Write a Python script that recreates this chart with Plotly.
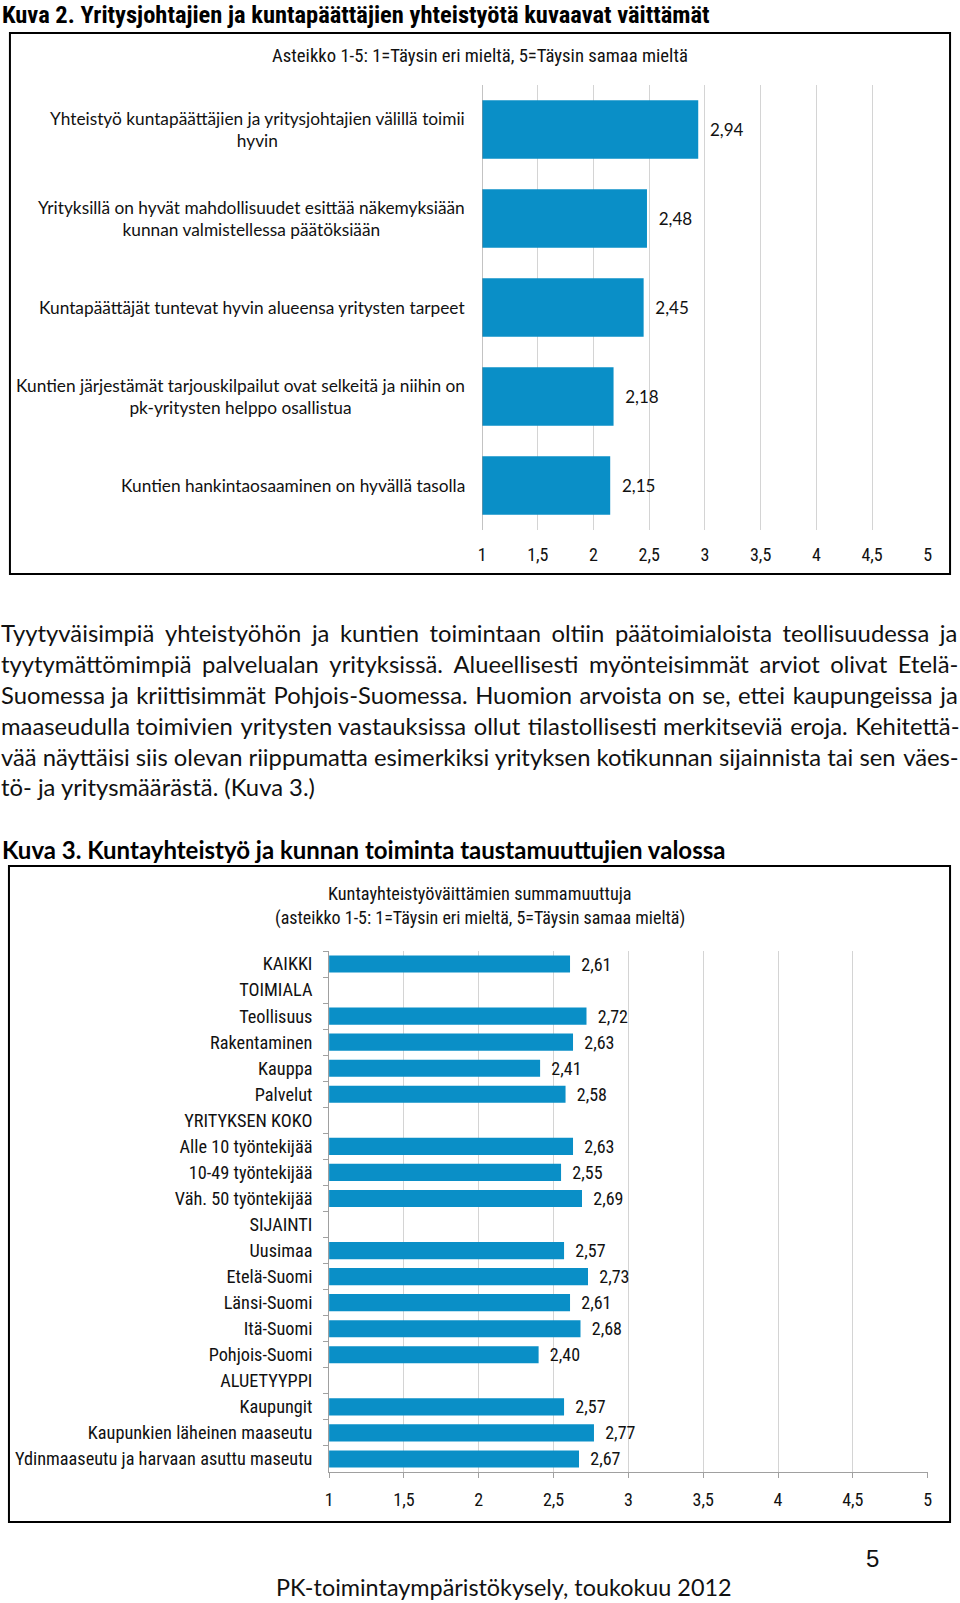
import plotly.graph_objects as go

# Kuva 2 - väittämät
vaitteet = [
    "Yhteistyö kuntapäättäjien ja yritysjohtajien välillä toimii<br>hyvin",
    "Yrityksillä on hyvät mahdollisuudet esittää näkemyksiään<br>kunnan valmistellessa päätöksiään",
    "Kuntapäättäjät tuntevat hyvin alueensa yritysten tarpeet",
    "Kuntien järjestämät tarjouskilpailut ovat selkeitä ja niihin on<br>pk-yritysten helppo osallistua",
    "Kuntien hankintaosaaminen on hyvällä tasolla",
]
vaite_arvot = [2.94, 2.48, 2.45, 2.18, 2.15]

# Kuva 3 - taustamuuttujat
taustat = [
    "KAIKKI", "TOIMIALA", "Teollisuus", "Rakentaminen", "Kauppa", "Palvelut",
    "YRITYKSEN KOKO", "Alle 10 työntekijää", "10-49 työntekijää", "Väh. 50 työntekijää",
    "SIJAINTI", "Uusimaa", "Etelä-Suomi", "Länsi-Suomi", "Itä-Suomi", "Pohjois-Suomi",
    "ALUETYYPPI", "Kaupungit", "Kaupunkien läheinen maaseutu",
    "Ydinmaaseutu ja harvaan asuttu maseutu",
]
tausta_arvot = [
    2.61, None, 2.72, 2.63, 2.41, 2.58,
    None, 2.63, 2.55, 2.69,
    None, 2.57, 2.73, 2.61, 2.68, 2.40,
    None, 2.57, 2.77, 2.67,
]

asteikko = [1, 1.5, 2, 2.5, 3, 3.5, 4, 4.5, 5]
asteikko_tekstit = ["1", "1,5", "2", "2,5", "3", "3,5", "4", "4,5", "5"]

leipateksti = [
    "Tyytyväisimpiä yhteistyöhön ja kuntien toimintaan oltiin päätoimialoista teollisuudessa ja",
    "tyytymättömimpiä palvelualan yrityksissä. Alueellisesti myönteisimmät arviot olivat Etelä-",
    "Suomessa ja kriittisimmät Pohjois-Suomessa. Huomion arvoista on se, ettei kaupungeissa ja",
    "maaseudulla toimivien yritysten vastauksissa ollut tilastollisesti merkitseviä eroja. Kehitettä-",
    "vää näyttäisi siis olevan riippumatta esimerkiksi yrityksen kotikunnan sijainnista tai sen väes-",
    "tö- ja yritysmäärästä. (Kuva 3.)",
]

W, H = 960, 1603
SININEN = "#0A8FC7"
CAL = "Lato, 'Open Sans', sans-serif"
KAPEA = "'Liberation Sans Narrow', 'Roboto Condensed', Roboto, sans-serif"


def fx(p):
    return p / W


def fy(p):
    return 1 - p / H


def pilkku(v):
    return "" if v is None else f"{v:.2f}".replace(".", ",")


def tasaa(rivi, n):
    # tasataan rivi jakamalla n hiusväliä tasaisesti sanaväleihin
    sanat = rivi.split(" ")
    k = len(sanat) - 1
    out = sanat[0]
    for i, s in enumerate(sanat[1:]):
        lisa = (i + 1) * n // k - i * n // k
        out += " " + "\u200a" * lisa + s
    return out


fig = go.Figure()

fig.add_trace(go.Bar(
    x=vaite_arvot, y=vaitteet, orientation="h",
    marker=dict(color=SININEN, line=dict(width=0)),
    text=["\u00a0\u00a0" + pilkku(v) for v in vaite_arvot],
    textposition="outside", constraintext="none",
    textfont=dict(family=CAL, size=17, color="#111"),
    xaxis="x", yaxis="y", hoverinfo="x+y",
))

fig.add_trace(go.Bar(
    x=tausta_arvot, y=taustat, orientation="h",
    marker=dict(color=SININEN, line=dict(width=0)),
    text=["\u00a0\u00a0" + pilkku(v) if v else "" for v in tausta_arvot],
    textposition="outside", constraintext="none",
    textfont=dict(family=KAPEA, size=18, color="#111"),
    xaxis="x2", yaxis="y2", hoverinfo="x+y",
))

annot = []
# Kuvan 2 väittämät keskitettyinä riveinä
for v in vaitteet:
    annot.append(dict(
        text=v, xref="paper", yref="y", x=fx(467), y=v,
        xanchor="right", yanchor="middle", align="center", showarrow=False,
        font=dict(family=CAL, size=17.3, color="#111"),
    ))

annot += [
    dict(text="<b>Kuva 2. Yritysjohtajien ja kuntapäättäjien yhteistyötä kuvaavat väittämät</b>",
         x=fx(-4), y=fy(14), xanchor="left", font=dict(family=KAPEA, size=24.5, color="#000")),
    dict(text="Asteikko 1-5: 1=Täysin eri mieltä, 5=Täysin samaa mieltä",
         x=fx(480), y=fy(56), xanchor="center", font=dict(family=KAPEA, size=18.7, color="#111")),
    dict(text="<b>Kuva 3. Kuntayhteistyö ja kunnan toiminta taustamuuttujien valossa</b>",
         x=fx(-4), y=fy(849), xanchor="left", font=dict(family=CAL, size=24, color="#000")),
    dict(text="Kuntayhteistyöväittämien summamuuttuja",
         x=fx(480), y=fy(893), xanchor="center", font=dict(family=KAPEA, size=18.3, color="#111")),
    dict(text="(asteikko 1-5: 1=Täysin eri mieltä, 5=Täysin samaa mieltä)",
         x=fx(480), y=fy(918), xanchor="center", font=dict(family=KAPEA, size=18, color="#111")),
    dict(text="5", x=fx(877), y=fy(1558), xanchor="center",
         font=dict(family="'Liberation Sans', Arial, sans-serif", size=24, color="#111")),
    dict(text="PK-toimintaympäristökysely, toukokuu 2012", x=fx(505), y=fy(1587), xanchor="center",
         font=dict(family=CAL, size=23.4, color="#111")),
]

rivit_y = [633, 664, 695, 726, 757, 787]
hiusvalit = [24, 21, 8, 5, 1, 0]
for rivi, ry, n in zip(leipateksti, rivit_y, hiusvalit):
    annot.append(dict(text=tasaa(rivi, n), x=fx(-5), y=fy(ry), xanchor="left",
                      font=dict(family=CAL, size=23.8, color="#111")))

for a in annot:
    a.setdefault("xref", "paper")
    a.setdefault("yref", "paper")
    a.setdefault("yanchor", "middle")
    a.setdefault("showarrow", False)

kehys = dict(type="rect", xref="paper", yref="paper", line=dict(color="#000", width=2),
             fillcolor="rgba(0,0,0,0)")

fig.update_layout(
    width=W, height=H,
    margin=dict(l=0, r=0, t=0, b=0),
    paper_bgcolor="white", plot_bgcolor="white",
    showlegend=False, bargap=0.34,
    xaxis=dict(
        domain=[fx(482.6), fx(932.5)], range=[1, 5], anchor="y",
        tickvals=asteikko, ticktext=asteikko_tekstit,
        tickfont=dict(family=KAPEA, size=18, color="#111"),
        showgrid=True, gridcolor="#d4d4d4", gridwidth=1,
        zeroline=False, showline=False, ticks="", ticklabelstandoff=12,
    ),
    yaxis=dict(
        domain=[fy(530), fy(85)], anchor="x", type="category",
        autorange="reversed", showticklabels=False, ticks="",
        showline=False, showgrid=False,
    ),
    xaxis2=dict(
        domain=[fx(328.2), fx(932.4)], range=[1, 5], anchor="y2",
        tickvals=asteikko, ticktext=asteikko_tekstit,
        tickfont=dict(family=KAPEA, size=18, color="#111"),
        showgrid=True, gridcolor="#d4d4d4", gridwidth=1,
        zeroline=False, showline=True, linecolor="#a0a0a0",
        ticks="outside", ticklen=5, tickcolor="#a0a0a0", ticklabelstandoff=6,
    ),
    yaxis2=dict(
        domain=[fy(1472), fy(951)], anchor="x2", type="category",
        autorange="reversed",
        tickfont=dict(family=KAPEA, size=18.3, color="#111"),
        ticks="outside", tickson="boundaries", ticklen=5, tickcolor="#a0a0a0",
        ticklabelstandoff=12,
        showline=True, linecolor="#a0a0a0", showgrid=False,
    ),
    annotations=annot,
    shapes=[
        dict(kehys, x0=fx(6), x1=fx(955), y0=fy(574), y1=fy(33)),
        dict(kehys, x0=fx(5), x1=fx(955), y0=fy(1522), y1=fy(866)),
        # akseliviiva kohdassa 1 kuvassa 2
        dict(type="line", xref="x", yref="paper", x0=1, x1=1, y0=fy(530), y1=fy(85),
             line=dict(color="#8c8c8c", width=1)),
    ],
)

fig.write_html(
    "out.html",
    config={"displayModeBar": False},
    post_script="document.body.style.margin='0';document.body.style.overflow='hidden';",
)
